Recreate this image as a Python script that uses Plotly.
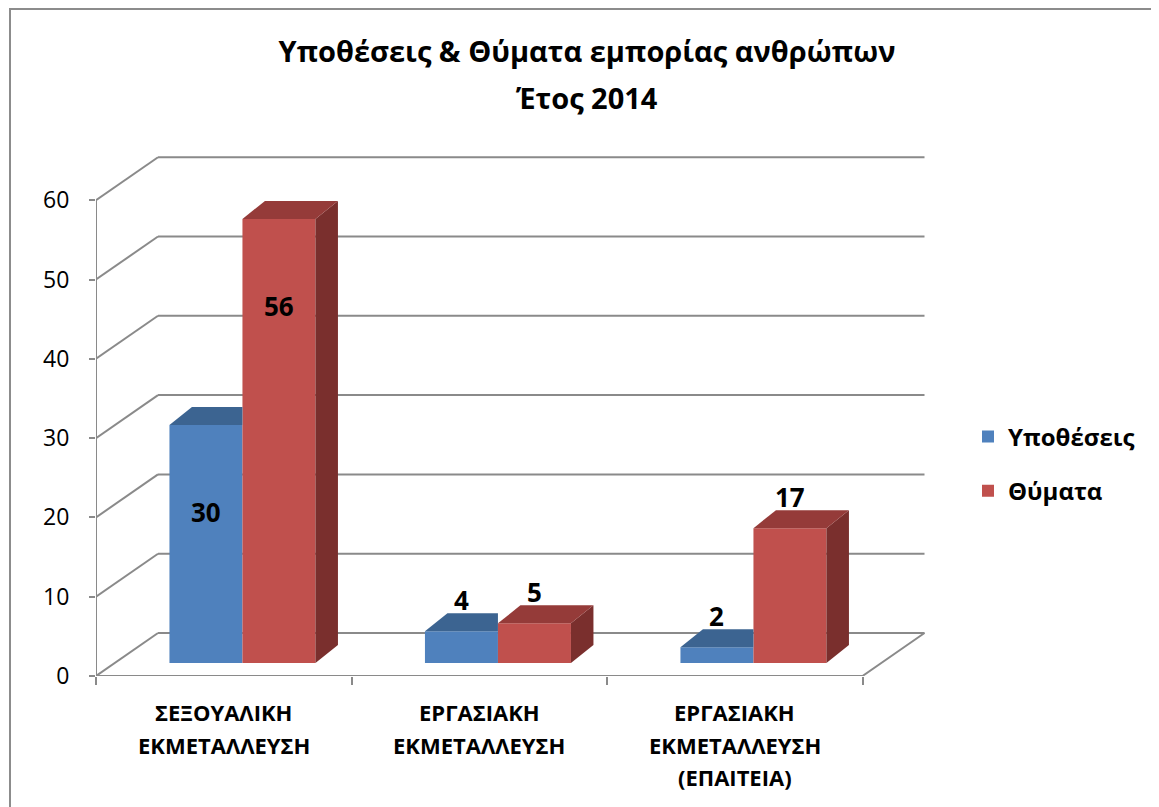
import plotly.graph_objects as go

# ---------------- data ----------------
title_line1 = "Υποθέσεις & Θύματα εμπορίας ανθρώπων"
title_line2 = "Έτος 2014"
category_lines = [
    ["ΣΕΞΟΥΑΛΙΚΗ", "ΕΚΜΕΤΑΛΛΕΥΣΗ"],
    ["ΕΡΓΑΣΙΑΚΗ", "ΕΚΜΕΤΑΛΛΕΥΣΗ"],
    ["ΕΡΓΑΣΙΑΚΗ", "ΕΚΜΕΤΑΛΛΕΥΣΗ", "(ΕΠΑΙΤΕΙΑ)"],
]
series_names = ["Υποθέσεις", "Θύματα"]
cases = [30, 4, 2]
victims = [56, 5, 17]
y_ticks = [0, 10, 20, 30, 40, 50, 60]

# ---------------- styling / geometry ----------------
FONT = "Open Sans"
OFF = 8                         # page body margin
W, H = 1159 - OFF, 807 - OFF    # figure size
# page-pixel positions (converted to figure pixels by subtracting OFF)
PX_L, PX_B = 96 - OFF, 676 - OFF
PLOT_R_PX, PLOT_T_PX = 940 - OFF, 149 - OFF
CU, VU = 255.5, 7.93            # pixels per category unit / per value unit
x_max = (PLOT_R_PX - PX_L) / CU
y_max = (PX_B - PLOT_T_PX) / VU

BX, BY = 62 / CU, 43 / VU      # back-wall depth offset
FX, FY = 18.7 / CU, 13 / VU    # bar front plane offset
DX, DY = 22.5 / CU, 18 / VU    # bar depth
BAR_W = 73 / CU

GRID = "#8a8a8a"
colors = {
    "front": ["#4F81BD", "#C0504D"],
    "top": ["#3C6491", "#953B39"],
    "side": ["#2F4E73", "#7A2F2D"],
}

n = len(cases)
series = [cases, victims]


def px_x(page_px):
    return (page_px - OFF - PX_L) / (PLOT_R_PX - PX_L)


def px_y(page_py):
    return (PX_B - (page_py - OFF)) / (PX_B - PLOT_T_PX)


fig = go.Figure()

# front faces (bars)
centers = []
for s, vals in enumerate(series):
    cx = [i + 0.5 + (s - 0.5) * BAR_W + FX for i in range(n)]
    centers.append(cx)
    fig.add_trace(go.Bar(
        x=cx, y=vals, base=[FY] * n, width=BAR_W,
        marker=dict(color=colors["front"][s], line=dict(width=0)),
        name=series_names[s], legendgroup=series_names[s],
        hoverinfo="skip",
    ))

# top and side faces (pseudo 3-D)
for i in range(n):
    for s, vals in enumerate(series):
        v = vals[i]
        x0 = centers[s][i] - BAR_W / 2
        x1 = centers[s][i] + BAR_W / 2
        top = FY + v
        if s == 0:
            tx = [x0, x1, x1, x0 + DX, x0]
            ty = [top, top, top + DY, top + DY, top]
        else:
            tx = [x0, x1, x1 + DX, x0 + DX, x0]
            ty = [top, top, top + DY, top + DY, top]
            fig.add_trace(go.Scatter(
                x=[x1, x1, x1 + DX, x1 + DX, x1],
                y=[FY, top, top + DY, FY + DY, FY],
                fill="toself", fillcolor=colors["side"][s], mode="lines",
                line=dict(width=0), showlegend=False, hoverinfo="skip",
            ))
        fig.add_trace(go.Scatter(
            x=tx, y=ty, fill="toself", fillcolor=colors["top"][s], mode="lines",
            line=dict(width=0), showlegend=False, hoverinfo="skip",
        ))

# front axis line and front / right floor edges
fig.add_trace(go.Scatter(
    x=[0, 0, None, 0, n, n + BX], y=[y_ticks[-1], 0, None, 0, 0, BY],
    mode="lines", line=dict(color=GRID, width=2), showlegend=False,
    hoverinfo="skip", cliponaxis=False,
))

# wall gridlines (behind everything)
shapes = []
for v in y_ticks:
    shapes.append(dict(type="line", xref="x", yref="y", x0=0, y0=v, x1=BX, y1=v + BY,
                       line=dict(color=GRID, width=2), layer="below"))
    shapes.append(dict(type="line", xref="x", yref="y", x0=BX, y0=v + BY, x1=n + BX, y1=v + BY,
                       line=dict(color=GRID, width=2), layer="below"))
# outer chart border
shapes.append(dict(type="rect", xref="paper", yref="paper",
                   x0=px_x(10), y0=px_y(815), x1=px_x(1170), y1=px_y(9),
                   line=dict(color="#8c8c8c", width=2), layer="below"))

annotations = []
# value labels
for s, vals in enumerate(series):
    for i, v in enumerate(vals):
        y = FY + v - 11 if v > 25 else FY + v + 3.9
        annotations.append(dict(
            x=centers[s][i], y=y, xref="x", yref="y", text=str(v), showarrow=False,
            font=dict(family=FONT, size=26, color="black", weight="bold"),
            xanchor="center", yanchor="middle",
        ))
# category labels
for i, lines in enumerate(category_lines):
    for k, line in enumerate(lines):
        annotations.append(dict(
            x=i + 0.5, y=px_y(712 + 32.5 * k), xref="x", yref="paper", text=line,
            showarrow=False, xanchor="center", yanchor="middle",
            font=dict(family=FONT, size=22, color="black", weight="bold"),
        ))
# second title line
annotations.append(dict(
    x=px_x(587), y=px_y(97), xref="paper", yref="paper", text=title_line2,
    showarrow=False, xanchor="center", yanchor="middle",
    font=dict(family=FONT, size=29, color="black", weight="bold"),
))

fig.update_layout(
    width=W, height=H,
    margin=dict(l=PX_L, r=W - PLOT_R_PX, t=PLOT_T_PX, b=H - PX_B),
    paper_bgcolor="white", plot_bgcolor="white",
    barmode="overlay",
    title=dict(text=title_line1, x=(587 - OFF) / W, xref="container", xanchor="center",
               y=1 - (52 - OFF) / H, yref="container", yanchor="middle",
               font=dict(family=FONT, size=29, color="black", weight="bold")),
    xaxis=dict(range=[0, x_max], tickvals=list(range(n + 1)), ticks="outside",
               ticklen=8, tickwidth=2, tickcolor=GRID, showticklabels=False,
               showgrid=False, zeroline=False, showline=False, fixedrange=True),
    yaxis=dict(range=[0, y_max], tickvals=y_ticks, ticks="outside", ticklen=6,
               tickwidth=2, tickcolor=GRID, showgrid=False, zeroline=False,
               showline=False, ticklabelstandoff=15,
               tickfont=dict(family=FONT, size=23, color="black"), fixedrange=True),
    legend=dict(x=px_x(968), y=px_y(464), xanchor="left", yanchor="middle",
                font=dict(family=FONT, size=24, color="black", weight="bold"),
                tracegroupgap=20, traceorder="grouped", bgcolor="rgba(0,0,0,0)"),
    shapes=shapes,
    annotations=annotations,
)

fig.write_html("out.html")
